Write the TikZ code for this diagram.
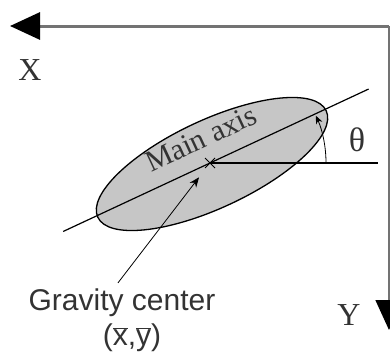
\documentclass[tikz,border=0pt]{standalone}
\usepackage{fontspec}
\setmainfont{Liberation Serif}
\setsansfont{Liberation Sans}
\usetikzlibrary{arrows.meta, positioning, calc}

\begin{document}
\begin{tikzpicture}[x=1pt, y=1pt,
    axisline/.style={draw=black!55, -{Triangle[length=30pt, width=27pt, color=black]}},
    arrow/.style={thick, -{Stealth[length=10pt, width=8pt]}},
    lbl/.style={font=\fontsize{32}{38}\selectfont, inner sep=2pt, text=black!80},
    caption/.style={font=\sffamily\fontsize{30}{36}\selectfont, inner sep=2pt, text=black!80}
]
\useasboundingbox (0,0) rectangle (390,360);
% frame axes
\coordinate (o) at (389,334);
\coordinate (xend) at (10,334);
\coordinate (yend) at (389,30);
\draw[axisline, line width=3pt] (o) -- (xend);
\draw[axisline, line width=1.5pt] (o) -- (yend);
\node[lbl] (xlbl) at (30,290) {X};
\node[lbl] (ylbl) at (349,45) {Y};

% region and its main axis
\coordinate (c) at (210,197);
\coordinate (axl) at ($(c)+(205:162)$);
\coordinate (axr) at ($(c)+(25:175)$);
\coordinate (hr) at (378,197);
\draw[fill=gray!45, line width=1.3pt, rotate around={25:(212,196)}]
  (212,196) ellipse [x radius=126pt, y radius=44pt];
\draw[line width=1.2pt] (axl) -- (axr);
\draw[line width=1.2pt] (c) -- (hr);
\draw[line width=1pt] ($(c)+(-5,-5)$) -- ($(c)+(5,5)$);
\draw[line width=1pt] ($(c)+(-5,5)$) -- ($(c)+(5,-5)$);
\node[lbl, font=\fontsize{30}{36}\selectfont, rotate=25, anchor=base]
  (axlbl) at ($(c)+(25:2)+(115:16)$) {Main axis};

% angle
\draw[thick, -{Stealth[length=8pt, width=7pt]}] ($(c)+(0:116)$)
  arc[start angle=0, end angle=24, radius=116pt];
\node[lbl, font=\fontsize{34}{40}\selectfont] (theta) at (357,220) {θ};

% gravity center
\node[caption] (gc) at (122,57) {Gravity center};
\node[caption] (gcxy) at (132,22) {(\(\overline{\mbox{x}}\),\(\overline{\mbox{y}}\))};
\draw[arrow, shorten >=18pt] ($(gc.north)+(-4,4)$) -- (c);
\end{tikzpicture}
\end{document}
